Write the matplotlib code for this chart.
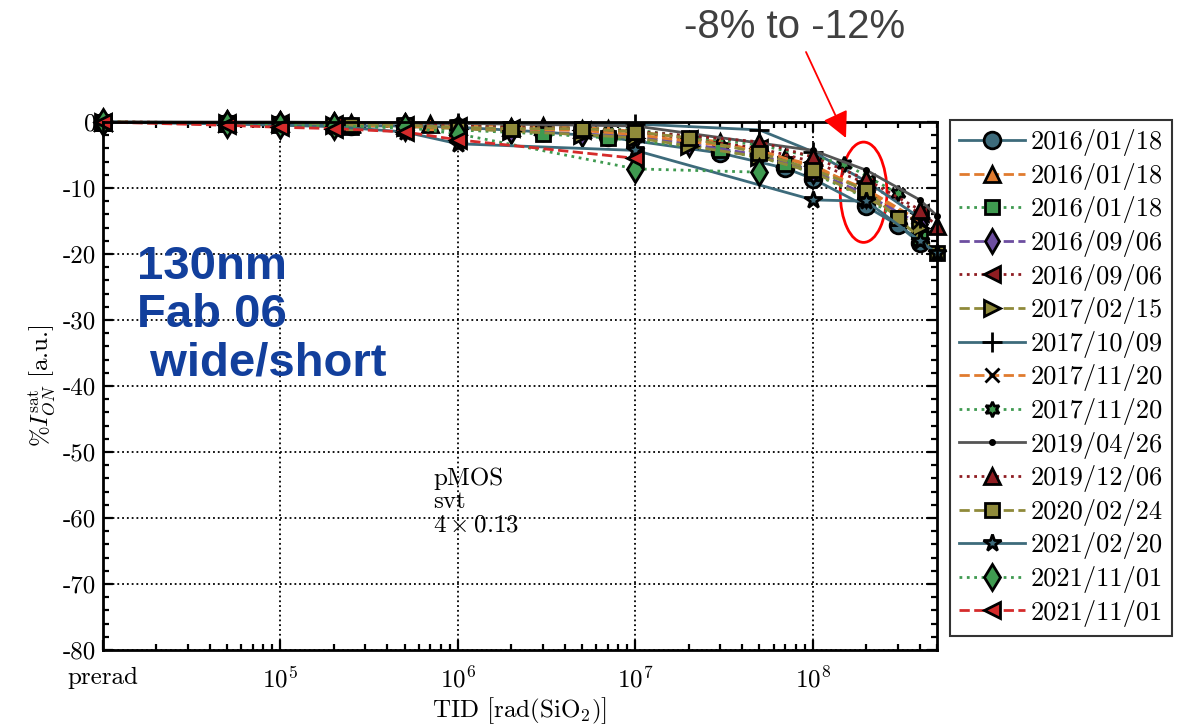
import numpy as np
import matplotlib
matplotlib.use('Agg')
import matplotlib.pyplot as plt
from matplotlib.patches import Ellipse, FancyArrowPatch
from matplotlib.ticker import FixedLocator, FixedFormatter, MultipleLocator

plt.rcParams['font.family'] = 'serif'
plt.rcParams['font.serif'] = ['cmr10', 'DejaVu Serif']
plt.rcParams['mathtext.fontset'] = 'cm'
plt.rcParams['axes.unicode_minus'] = False
plt.rcParams['axes.formatter.use_mathtext'] = True

# TID steps (prerad is put at 1e4 on the log axis)
dates = ['2016/01/18', '2016/01/18', '2016/01/18', '2016/09/06', '2016/09/06',
         '2017/02/15', '2017/10/09', '2017/11/20', '2017/11/20', '2019/04/26',
         '2019/12/06', '2020/02/24', '2021/02/20', '2021/11/01', '2021/11/01']

tid_a = [1e4, 5e4, 1e5, 2.5e5, 5e5, 1e6, 3e6, 7e6, 3e7, 7e7, 1e8, 2e8, 3e8, 4e8]
ion_a1 = [0, -0.2, -0.3, -0.6, -0.6, -0.8, -1.5, -2.3, -4.7, -7.0, -8.6, -12.8, -15.6, -18.3]
ion_a3 = [0, -0.3, -0.4, -0.7, -0.9, -1.2, -1.8, -2.4, -4.2, -6.3, -7.8, -11.5, -14.6, -17.5]

tid_b = [1e4, 2.5e5, 7e5, 3e6, 7e6, 3e7, 7e7, 1e8, 2e8, 4e8]
ion_b = [0, -0.2, -0.3, -0.6, -1.0, -3.0, -5.5, -6.5, -10.5, -15.3]

tid_c = [1e4, 5e4, 1e5, 2e5, 5e5, 1e6, 2e6, 5e6, 1e7, 2e7, 5e7, 1e8, 2e8, 4e8]
ion_c4 = [0, -0.2, -0.3, -0.4, -0.6, -0.9, -1.3, -1.8, -2.2, -3.3, -5.0, -7.4, -11.0, -15.5]
ion_c5 = [0, -0.1, -0.2, -0.3, -0.4, -0.6, -0.9, -1.2, -1.6, -2.5, -4.0, -6.0, -9.3, -13.8]
ion_c6 = [0, -0.2, -0.3, -0.5, -0.7, -1.0, -1.4, -1.9, -2.4, -3.6, -5.3, -7.6, -11.4, -16.0]

tid_d = [1e4, 1e5, 1e6, 1e7, 5e7, 1e8, 2e8, 4e8]
ion_d = [0, -0.1, -0.2, -0.3, -1.2, -4.5, -9.0, -14.5]

tid_e = [1e4, 1e5, 1e6, 5e6, 1e7, 5e7, 1e8, 2e8, 4e8]
ion_e = [0, -0.3, -0.8, -1.3, -1.9, -4.3, -6.8, -10.2, -15.0]

tid_f = [1e4, 1e5, 1e6, 1e7, 5e7, 1.5e8, 3e8]
ion_f = [0, -0.2, -0.5, -1.2, -3.5, -6.3, -10.8]

tid_g = [1e4, 1e5, 1e6, 1e7, 1e8, 2e8, 4e8, 5e8]
ion_g = [0, 0, -0.2, -0.6, -4.3, -7.3, -11.8, -14.2]

tid_h = [1e4, 5e4, 1e5, 2.5e5, 5e5, 1e6, 2e6, 5e6, 1e7, 5e7, 1e8, 2e8, 4e8, 5e8]
ion_h = [0, -0.1, -0.2, -0.3, -0.4, -0.6, -0.8, -1.0, -1.4, -3.0, -5.3, -8.7, -13.3, -15.8]

tid_i = [1e4, 5e4, 1e5, 2.5e5, 5e5, 1e6, 2e6, 5e6, 1e7, 2e7, 5e7, 1e8, 2e8, 3e8, 5e8]
ion_i = [0, -0.2, -0.3, -0.4, -0.5, -0.8, -1.0, -1.0, -1.5, -2.4, -4.7, -7.2, -10.3, -14.6, -19.8]

tid_j = [1e4, 5e4, 1e5, 2e5, 5e5, 1e6, 1e7, 1e8, 2e8, 4e8, 5e8]
ion_j = [0, -0.3, -0.5, -0.7, -1.5, -3.3, -4.3, -11.8, -12.0, -18.0, -19.9]

tid_k = [1e4, 5e4, 1e5, 2e5, 5e5, 1e6, 1e7, 5e7]
ion_k = [0, -0.3, -0.5, -0.6, -0.8, -1.8, -7.1, -7.6]

tid_l = [1e4, 5e4, 1e5, 2e5, 5e5, 1e6, 1e7]
ion_l = [0, -0.5, -0.8, -1.0, -1.5, -2.7, -5.5]

xs = [tid_a, tid_b, tid_a, tid_c, tid_c, tid_c, tid_d, tid_e, tid_f, tid_g,
      tid_h, tid_i, tid_j, tid_k, tid_l]
ys = [ion_a1, ion_b, ion_a3, ion_c4, ion_c5, ion_c6, ion_d, ion_e, ion_f, ion_g,
      ion_h, ion_i, ion_j, ion_k, ion_l]

teal = '#3d6b7b'
orange = '#e07b2f'
green = '#3f9a50'
purple = '#6d4ea0'
darkred = '#8f1d22'
olive = '#8f8a3a'
gray = '#555555'
red = '#d52b2b'

colors = [teal, orange, green, purple, darkred, olive, teal, orange, green, gray,
          darkred, olive, teal, green, red]
styles = ['-', '--', ':', '--', ':', '--', '-', '--', ':', '-', ':', '--', '-', ':', '--']
markers = ['o', '^', 's', 'd', '<', '>', '+', 'x', (6, 1, 0), '.', '^', 's', '*', 'd', '<']
msizes = [12, 12, 10, 12, 12, 12, 14, 10, 11, 6, 12, 10, 13, 13, 12]

fig = plt.figure(figsize=(11.88, 7.28), dpi=100)
ax = fig.add_axes([0.0867, 0.1071, 0.702, 0.7253])

for x, y, c, ls, m, ms, lab in zip(xs, ys, colors, styles, markers, msizes, dates):
    face = 'black' if m in ('+', 'x', '.') else c
    ax.plot(x, y, linestyle=ls, color=c, lw=2.0, marker=m, markersize=ms,
            markerfacecolor=face, markeredgecolor='black', markeredgewidth=2.0,
            label=lab, clip_on=False)

ax.set_xscale('log')
ax.set_xlim(1e4, 5e8)
ax.set_ylim(-80, 0)

ax.xaxis.set_major_locator(FixedLocator([1e4, 1e5, 1e6, 1e7, 1e8]))
ax.xaxis.set_major_formatter(FixedFormatter(['prerad', '$10^5$', '$10^6$', '$10^7$', '$10^8$']))
ax.yaxis.set_minor_locator(MultipleLocator(2))
ax.set_yticks(np.arange(-80, 1, 10))
ax.set_yticklabels([str(v) for v in range(-80, 1, 10)])

ax.tick_params(which='both', direction='in', top=True, right=True, labelsize=18, width=1.6)
ax.tick_params(which='major', length=7)
ax.tick_params(which='minor', length=4)
ax.tick_params(axis='x', which='major', pad=12)
ax.tick_params(axis='y', which='major', pad=5)
for s in ax.spines.values():
    s.set_linewidth(2.0)

ax.grid(True, which='major', color='black', linestyle=':', linewidth=1.3)

ax.set_xlabel(r'TID $\left[\mathrm{rad(SiO_2)}\right]$', fontsize=18, labelpad=2)
ax.set_ylabel(r'$\%I_{ON}^{\mathrm{sat}}$ [a.u.]', fontsize=18, labelpad=4)

ax.text(0.396, 0.345, 'pMOS\nsvt\n$4\\times 0.13$', transform=ax.transAxes,
        fontsize=18, va='top', ha='left', linespacing=1.05)

fig.text(137 / 1188, 1 - 245 / 728, '130nm\nFab 06\n wide/short', color='#123f9c',
         fontsize=34, fontweight='bold', family='Liberation Sans', va='top', ha='left',
         linespacing=1.12)

fig.text(795 / 1188, 1 - 27 / 728, '-8% to -12%', color='#404040', fontsize=29,
         family='Liberation Sans', ha='center', va='center')

fig.add_artist(FancyArrowPatch(
    (806 / 1188, 1 - 52 / 728), (846 / 1188, 1 - 138 / 728),
    transform=fig.transFigure, arrowstyle='-|>,head_length=16,head_width=8',
    color='red', lw=1.3, mutation_scale=1, shrinkA=0, shrinkB=0))

ax.add_patch(Ellipse((0.912, 0.867), 0.056, 0.19, transform=ax.transAxes,
                     fill=False, edgecolor='red', lw=2.0, clip_on=False))

leg = ax.legend(loc='upper left', bbox_to_anchor=(950 / 1188, 1 - 120 / 728),
                bbox_transform=fig.transFigure, fontsize=19, fancybox=False,
                edgecolor='#333333', framealpha=1, handlelength=2.5,
                labelspacing=0.25, borderpad=0.35, handletextpad=0.2,
                borderaxespad=0)
leg.get_frame().set_linewidth(1.5)

fig.savefig('out.png', dpi=100)
